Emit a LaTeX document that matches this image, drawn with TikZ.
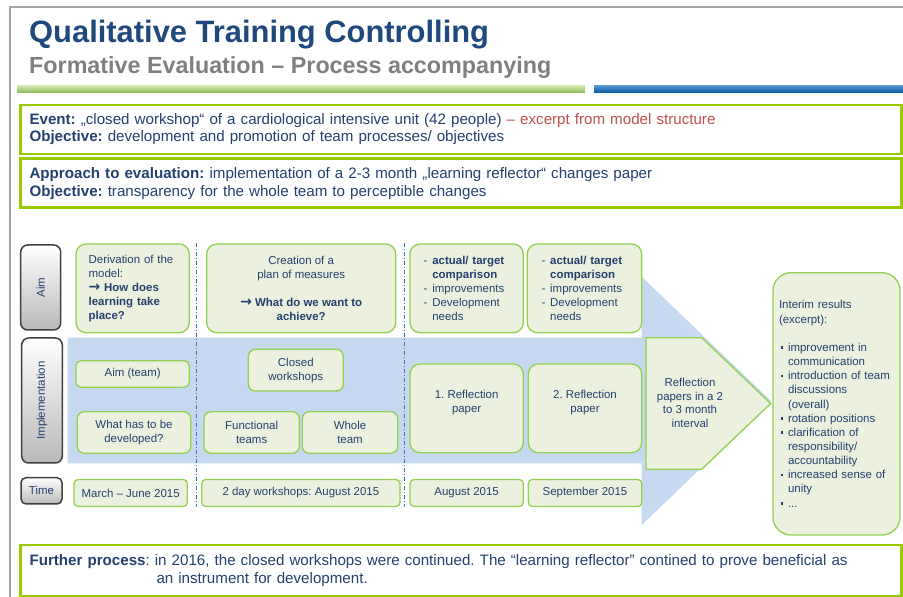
\documentclass[tikz,border=0pt]{standalone}
\usepackage{fontspec}
\setmainfont{Liberation Sans}
\newfontfamily\arrowfont{DejaVu Sans}
\frenchspacing
\begin{document}
\begin{tikzpicture}[
	box/.style={draw=boxgreen,fill=boxfill,line width=1.3bp,rounded corners=10bp,inner sep=0pt,align=center,text=textblue,font=\fontsize{11.5}{14}\selectfont},
	btn/.style={draw=btnborder,line width=1.5bp,rounded corners=7bp,top color=white,bottom color=btngray,inner sep=0pt},
	btntext/.style={text=textblue,font=\fontsize{11.5}{14}\selectfont,inner sep=0pt},
	infobox/.style={draw=framegreen,line width=2.5bp,minimum width=881bp,inner xsep=9bp,text width=863bp,align=left,text=textblue},
	sep/.style={draw=sepblue,line width=0.9bp,dash pattern=on 4bp off 2bp on 1bp off 2bp}]
		%%
  \definecolor{framegray}{RGB}{166,166,166}
  \definecolor{titleblue}{RGB}{31,73,125}
  \definecolor{subgray}{RGB}{127,127,127}
  \definecolor{textblue}{RGB}{36,64,110}
  \definecolor{excerptred}{RGB}{192,80,77}
  \definecolor{framegreen}{RGB}{153,204,0}
  \definecolor{boxgreen}{RGB}{146,208,80}
  \definecolor{boxfill}{RGB}{235,241,222}
  \definecolor{bandblue}{RGB}{198,217,241}
  \definecolor{sepblue}{RGB}{68,114,196}
  \definecolor{btnborder}{RGB}{64,64,64}
  \definecolor{btngray}{RGB}{185,185,185}
  \useasboundingbox (0bp,0bp) rectangle (903bp,597bp);
  \draw [draw=framegray,line width=2bp] (903bp,589.5bp) -- (10bp,589.5bp) -- (10bp,0bp);
  % heading
  \node (Title) at (29bp,554.3bp) [anchor=base west,inner sep=0pt,text=titleblue,font=\fontsize{31}{37}\selectfont\bfseries] {Qualitative Training Controlling};
  \node (Subtitle) at (29bp,523.7bp) [anchor=base west,inner sep=0pt,text=subgray,font=\fontsize{23.4}{28}\selectfont\bfseries] {Formative Evaluation – Process accompanying};
  \shade [top color={rgb,255:red,205;green,228;blue,170},bottom color={rgb,255:red,140;green,186;blue,84}] (17bp,504bp) rectangle (585bp,511bp);
  \shade [top color={rgb,255:red,80;green,146;blue,206},bottom color={rgb,255:red,0;green,84;blue,160}] (594bp,504bp) rectangle (903bp,511bp);
  \node (Event) at (461bp,467.5bp) [infobox,minimum height=49bp,font=\fontsize{15.2}{17}\selectfont] {\textbf{Event:} „closed workshop“ of a cardiological intensive unit (42 people) \textcolor{excerptred}{– excerpt from model structure}\\\textbf{Objective:} development and promotion of team processes/ objectives};
  \node (Approach) at (461bp,413.8bp) [infobox,minimum height=49bp,font=\fontsize{15.2}{18}\selectfont] {\textbf{Approach to evaluation:} implementation of a 2-3 month „learning reflector“ changes paper\\\textbf{Objective:} transparency for the whole team to perceptible changes};
  \node (Further) at (461bp,26.5bp) [infobox,minimum height=51bp,font=\fontsize{15.2}{18}\selectfont] {\textbf{Further process}: in 2016, the closed workshops were continued. The “learning reflector” contined to prove beneficial as\\\hspace*{127bp}an instrument for development.};
  % band and arrow
  \fill [bandblue] (67.7bp,259.3bp) -- (641.7bp,259.3bp) -- (641.7bp,320.3bp) -- (771bp,196bp) -- (641.7bp,72bp) -- (641.7bp,133.7bp) -- (67.7bp,133.7bp) -- cycle;
  \draw [sep] (196.7bp,354bp) -- (196.7bp,90bp);
  \draw [sep] (404.3bp,354bp) -- (404.3bp,90bp);
  % row buttons
  \node (AimBtn) at (40.7bp,309.5bp) [btn,minimum width=40bp,minimum height=85bp] {};
  \node (AimLbl) at (AimBtn) [btntext,rotate=90] {Aim};
  \node (ImplBtn) at (42bp,196.5bp) [btn,minimum width=40.6bp,minimum height=125bp] {};
  \node (ImplLbl) at (ImplBtn) [btntext,rotate=90] {Implementation};
  \node (TimeBtn) at (41.5bp,106.15bp) [btn,btntext,minimum width=41bp,minimum height=26.3bp,rounded corners=5bp] {Time};
  % aim row
  \node (Deriv) at (132.65bp,308.65bp) [box,minimum width=113.3bp,minimum height=88.7bp,text width=88bp,align=left] {Derivation of the\\model:\\\textbf{{\arrowfont\fontsize{14}{14}\selectfont→} How does}\\\textbf{learning take}\\\textbf{place?}};
  \node (Creation) at (301.2bp,308.65bp) [box,minimum width=189bp,minimum height=88.7bp] {Creation of a\\plan of measures\\[14bp]\textbf{{\arrowfont\fontsize{14}{14}\selectfont→} What do we want to}\\\textbf{achieve?}};
  \node (ActualA) at (466.65bp,308.65bp) [box,minimum width=113.3bp,minimum height=88.7bp,text width=86bp,align=left] {\makebox[8.7bp][l]{-}\textbf{actual/ target}\\\hspace*{8.7bp}\textbf{comparison}\\\makebox[8.7bp][l]{-}improvements\\\makebox[8.7bp][l]{-}Development\\\hspace*{8.7bp}needs};
  \node (ActualB) at (584.5bp,308.65bp) [box,minimum width=114.4bp,minimum height=88.7bp,text width=86bp,align=left] {\makebox[8.7bp][l]{-}\textbf{actual/ target}\\\hspace*{8.7bp}\textbf{comparison}\\\makebox[8.7bp][l]{-}improvements\\\makebox[8.7bp][l]{-}Development\\\hspace*{8.7bp}needs};
  % implementation row
  \node (AimTeam) at (132.65bp,223bp) [box,minimum width=113.3bp,minimum height=26.6bp,rounded corners=5bp] {Aim (team)};
  \node (WhatDev) at (134bp,164.5bp) [box,minimum width=113.4bp,minimum height=41.6bp,rounded corners=7bp] {What has to be\\developed?};
  \node (Closed) at (295.8bp,226.85bp) [box,minimum width=95bp,minimum height=41.7bp,rounded corners=7bp] {Closed\\workshops};
  \node (Functional) at (251.65bp,164.5bp) [box,minimum width=95.3bp,minimum height=41.6bp,rounded corners=7bp] {Functional\\teams};
  \node (Whole) at (350bp,164.5bp) [box,minimum width=95.4bp,minimum height=41.6bp,rounded corners=7bp] {Whole\\team};
  \node (ReflA) at (466.65bp,188.65bp) [box,minimum width=113.3bp,minimum height=88.7bp] {1. Reflection\\paper\\\mbox{}};
  \node (ReflB) at (585bp,188.65bp) [box,minimum width=113.4bp,minimum height=88.7bp] {2. Reflection\\paper\\\mbox{}};
  \draw [draw=boxgreen,fill=boxfill,line width=1.3bp] (646bp,259.3bp) -- (701.7bp,259.3bp) -- (770.7bp,193.5bp) -- (701.7bp,127.7bp) -- (646bp,127.7bp) -- cycle;
  \node (Refl) at (690bp,194bp) [inner sep=0pt,align=center,text=textblue,font=\fontsize{11.5}{13.8}\selectfont] {Reflection\\papers in a 2\\to 3 month\\interval};
  \node (Interim) at (836.5bp,193.15bp) [box,minimum width=127bp,minimum height=262.3bp,rounded corners=18bp,text width=115bp,align=left,font=\fontsize{11.5}{14.2}\selectfont] {Interim results\\(excerpt):\\[14.2bp]\makebox[9bp][l]{\hspace*{1.5bp}\raisebox{2.5bp}{\rule{2.6bp}{2.6bp}}}improvement in\\\hspace*{9bp}communication\\\makebox[9bp][l]{\hspace*{1.5bp}\raisebox{2.5bp}{\rule{2.6bp}{2.6bp}}}introduction of team\\\hspace*{9bp}discussions\\\hspace*{9bp}(overall)\\\makebox[9bp][l]{\hspace*{1.5bp}\raisebox{2.5bp}{\rule{2.6bp}{2.6bp}}}rotation positions\\\makebox[9bp][l]{\hspace*{1.5bp}\raisebox{2.5bp}{\rule{2.6bp}{2.6bp}}}clarification of\\\hspace*{9bp}responsibility/\\\hspace*{9bp}accountability\\\makebox[9bp][l]{\hspace*{1.5bp}\raisebox{2.5bp}{\rule{2.6bp}{2.6bp}}}increased sense of\\\hspace*{9bp}unity\\\makebox[9bp][l]{\hspace*{1.5bp}\raisebox{2.5bp}{\rule{2.6bp}{2.6bp}}}...};
  % time row
  \node (March) at (130.65bp,104bp) [box,minimum width=113.3bp,minimum height=27bp,rounded corners=4bp] {March – June 2015};
  \node (Workshops) at (300.85bp,104bp) [box,minimum width=198.3bp,minimum height=27bp,rounded corners=4bp] {2 day workshops: August 2015};
  \node (August) at (466.65bp,104bp) [box,minimum width=113.3bp,minimum height=27bp,rounded corners=4bp] {August 2015};
  \node (September) at (585bp,104bp) [box,minimum width=113.4bp,minimum height=27bp,rounded corners=4bp] {September 2015};
		%
	\end{tikzpicture}
\end{document}
